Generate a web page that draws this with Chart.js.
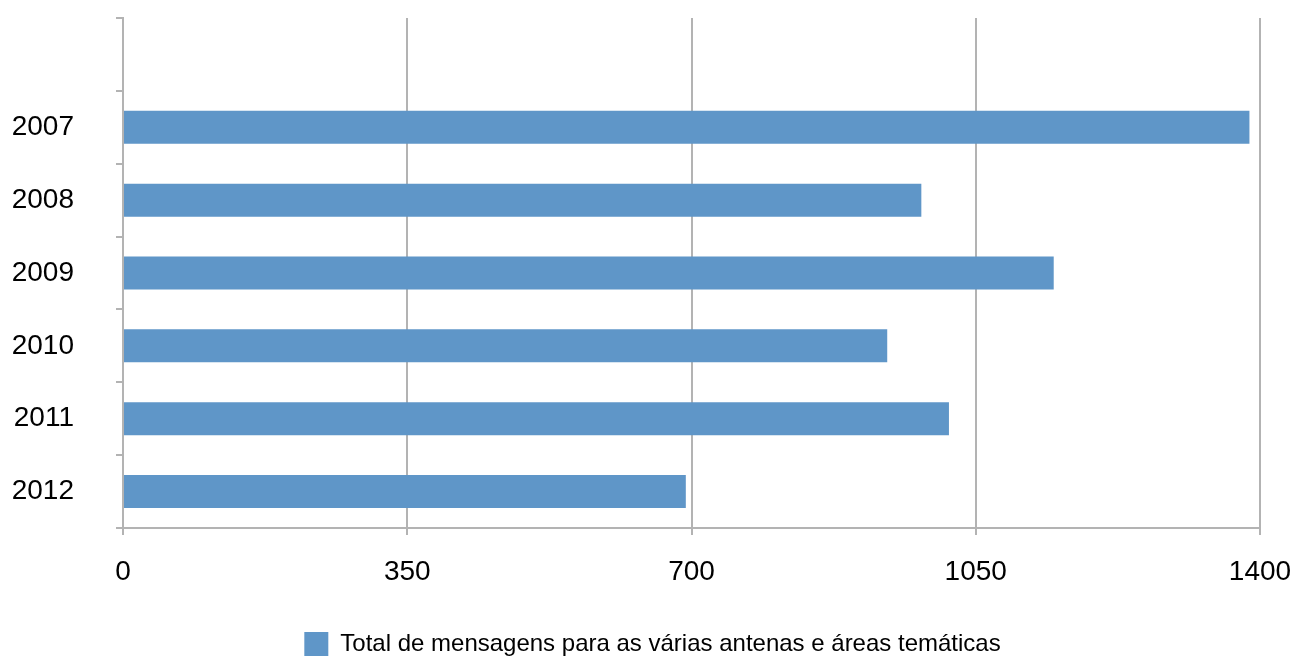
<!DOCTYPE html>
<html>
<head>
<meta charset="utf-8">
<script src="https://cdn.jsdelivr.net/npm/chart.js@4/dist/chart.umd.min.js"></script>
<style>
  html, body { margin: 0; padding: 0; background: #fff; overflow: hidden; }
</style>
</head>
<body>
<canvas id="chart" width="1293" height="657"></canvas>
<script>
// first slot is left empty, as on the original sheet
const years = ['', '2007', '2008', '2009', '2010', '2011', '2012'];
const totals = [null, 1387, 983, 1146, 941, 1017, 693];
const xTicks = [0, 350, 700, 1050, 1400];
const seriesName = 'Total de mensagens para as várias antenas e áreas temáticas';

const FONT = '"Liberation Sans", Arial, Helvetica, sans-serif';
const GRID = '#b3b3b3';
const BAR = '#5f96c8';

new Chart(document.getElementById('chart'), {
  type: 'bar',
  data: {
    labels: years,
    datasets: [{
      label: seriesName,
      data: totals,
      backgroundColor: BAR,
      borderWidth: 0,
      barPercentage: 0.453,
      categoryPercentage: 1
    }]
  },
  options: {
    indexAxis: 'y',
    responsive: false,
    animation: false,
    layout: { padding: { top: 18, right: 0, left: 12, bottom: 0 } },
    scales: {
      x: {
        min: 0,
        max: 1400,
        afterBuildTicks: s => { s.ticks = xTicks.map(v => ({ value: v })); },
        afterFit: s => {
          s.height = 104;
          s.paddingLeft = 0;
          s.paddingRight = 33;
        },
        grid: { color: GRID, lineWidth: 2, tickLength: 7, drawTicks: true },
        border: { display: true, color: GRID, width: 2 },
        ticks: {
          color: '#000',
          padding: 20,
          font: { family: FONT, size: 28 },
          callback: v => String(v)
        }
      },
      y: {
        afterFit: s => {
          s.width = 111;
          s.paddingTop = 0;
          s.paddingBottom = 0;
        },
        grid: { offset: true, drawOnChartArea: false, color: GRID, lineWidth: 2, tickLength: 7 },
        border: { display: true, color: GRID, width: 2 },
        ticks: { color: '#000', padding: 42, font: { family: FONT, size: 28 } }
      }
    },
    plugins: {
      legend: {
        position: 'bottom',
        maxHeight: 25,
        labels: {
          color: '#000',
          boxWidth: 24,
          boxHeight: 24,
          padding: 0,
          font: { family: FONT, size: 24 }
        }
      },
      tooltip: { enabled: false }
    }
  }
});
</script>
</body>
</html>
